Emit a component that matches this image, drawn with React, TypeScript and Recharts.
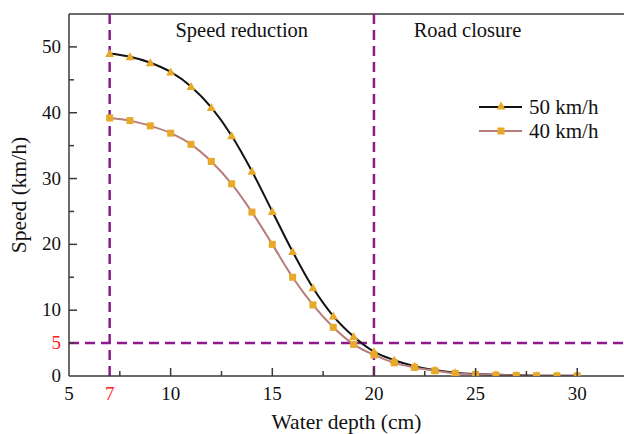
import { LineChart, Line, XAxis, YAxis, ReferenceLine, ReferenceArea, Label } from 'recharts';

const depth = [7, 8, 9, 10, 11, 12, 13, 14, 15, 16, 17, 18, 19, 20, 21, 22, 23, 24, 25, 26, 27, 28, 29, 30];
const speed50 = [49.0, 48.5, 47.6, 46.2, 44.0, 40.8, 36.5, 31.1, 25.0, 18.9, 13.4, 9.1, 6.0, 3.7, 2.4, 1.5, 0.9, 0.5, 0.3, 0.2, 0.1, 0.05, 0.03, 0.02];
const speed40 = [39.2, 38.8, 38.0, 36.9, 35.2, 32.6, 29.2, 24.9, 20.0, 15.0, 10.8, 7.4, 4.8, 3.2, 2.0, 1.3, 0.8, 0.4, 0.25, 0.15, 0.08, 0.05, 0.03, 0.02];

const xTicks = [5, 7, 7.5, 10, 12.5, 15, 17.5, 20, 22.5, 25, 27.5, 30];
const xLabels = [5, 7, 10, 15, 20, 25, 30];
const yTicks = [0, 5, 10, 15, 20, 25, 30, 35, 40, 45, 50];
const yLabels = [0, 5, 10, 20, 30, 40, 50];

const data = depth.map((d, i) => ({ depth: d, s50: speed50[i], s40: speed40[i] }));

const FONT = "'Liberation Serif', 'DejaVu Serif', serif";
const AXIS = '#3a3a3a';
const PURPLE = '#8E1B8E';
const MARK = '#E8A82A';
const ROSE = '#B57D7B';
const txt = { fontFamily: FONT };

const XTick = (props: any) => {
  const { x, y, payload } = props;
  const v = payload.value;
  const labeled = xLabels.includes(v);
  const major = Number.isInteger(v) && v !== 7;
  return (
    <g>
      {v !== 7 && v !== 5 && (
        <line x1={x} x2={x} y1={y} y2={y - (major ? 8 : 5)} stroke={AXIS} strokeWidth={1.5} />
      )}
      {labeled && (
        <text x={x} y={y + 24} textAnchor="middle" fontSize={19} style={txt}
          fill={v === 7 ? '#FF1A1A' : '#111'}>
          {v}
        </text>
      )}
    </g>
  );
};

const YTick = (props: any) => {
  const { x, y, payload } = props;
  const v = payload.value;
  const labeled = yLabels.includes(v);
  const major = v % 10 === 0;
  return (
    <g>
      {v !== 0 && (
        <line x1={x} x2={x + (major ? 8 : 5)} y1={y} y2={y} stroke={AXIS} strokeWidth={1.5} />
      )}
      {labeled && (
        <text x={x - 8} y={y + 6} textAnchor="end" fontSize={19} style={txt}
          fill={v === 5 ? '#FF1A1A' : '#111'}>
          {v}
        </text>
      )}
    </g>
  );
};

const Triangle = (props: any) => {
  const { cx, cy } = props;
  if (cx == null || cy == null) return null;
  return <path d={`M${cx},${cy - 4.5} L${cx + 4.5},${cy + 3.5} L${cx - 4.5},${cy + 3.5} Z`} fill={MARK} />;
};

const Square = (props: any) => {
  const { cx, cy } = props;
  if (cx == null || cy == null) return null;
  return <rect x={cx - 3.5} y={cy - 3.5} width={7} height={7} fill={MARK} />;
};

const series = [
  { name: '50 km/h', color: '#111', shape: 'tri' },
  { name: '40 km/h', color: ROSE, shape: 'sq' },
];

const LegendBox = () => (
  <svg width={140} height={64} style={{ position: 'absolute', left: 479, top: 93, overflow: 'visible' }}>
    {series.map((s, i) => {
      const cy = 14 + i * 24;
      return (
        <g key={s.name}>
          <line x1={0} x2={43} y1={cy} y2={cy} stroke={s.color} strokeWidth={2} />
          {s.shape === 'tri' ? <Triangle cx={22} cy={cy - 1} /> : <Square cx={22} cy={cy} />}
          <text x={50} y={cy + 7} fontSize={21} style={txt} fill="#111">{s.name}</text>
        </g>
      );
    })}
  </svg>
);

export default function App() {
  return (
    <div style={{ position: 'absolute', left: 0, top: 0, width: 624, height: 434, background: '#fff', fontFamily: FONT }}>
      <LineChart width={624} height={434} data={data} margin={{ top: 14, right: 0, left: 0, bottom: 0 }} style={txt}>
        <XAxis dataKey="depth" type="number" domain={[5, 32.3]} ticks={xTicks} allowDataOverflow
          tick={<XTick />} tickLine={false} tickSize={0} tickMargin={0} height={58}
          axisLine={{ stroke: AXIS, strokeWidth: 1.5 }} interval={0}>
          <Label value="Water depth (cm)" position="insideBottom" offset={5} fontSize={21.5} style={txt} fill="#111" />
        </XAxis>
        <YAxis type="number" domain={[0, 55]} ticks={yTicks} allowDataOverflow
          tick={<YTick />} tickLine={false} tickSize={0} tickMargin={0} width={69}
          axisLine={{ stroke: AXIS, strokeWidth: 1.5 }} interval={0}>
          <Label value="Speed (km/h)" angle={-90} position="insideLeft" offset={18} fontSize={21.5} fill="#111" style={{ textAnchor: 'middle', fontFamily: FONT }} />
        </YAxis>
        <ReferenceLine y={55} stroke={AXIS} strokeWidth={1.5} />
        <ReferenceArea x1={7} x2={20} fillOpacity={0} strokeOpacity={0}
          label={{ value: 'Speed reduction', position: 'insideTop', offset: 8, fontSize: 20.5, style: txt, fill: '#111' }} />
        <ReferenceArea x1={20} x2={29.2} fillOpacity={0} strokeOpacity={0}
          label={{ value: 'Road closure', position: 'insideTop', offset: 8, fontSize: 20.5, style: txt, fill: '#111' }} />
        <ReferenceLine x={7} stroke={PURPLE} strokeWidth={2.5} strokeDasharray="10 6" />
        <ReferenceLine x={20} stroke={PURPLE} strokeWidth={2.5} strokeDasharray="10 6" />
        <ReferenceLine y={5} stroke={PURPLE} strokeWidth={2.5} strokeDasharray="10 6" />
        <Line type="monotone" dataKey="s50" name="50 km/h" stroke="#111" strokeWidth={2}
          dot={<Triangle />} activeDot={false} isAnimationActive={false} />
        <Line type="monotone" dataKey="s40" name="40 km/h" stroke={ROSE} strokeWidth={2}
          dot={<Square />} activeDot={false} isAnimationActive={false} />
      </LineChart>
      <LegendBox />
    </div>
  );
}
